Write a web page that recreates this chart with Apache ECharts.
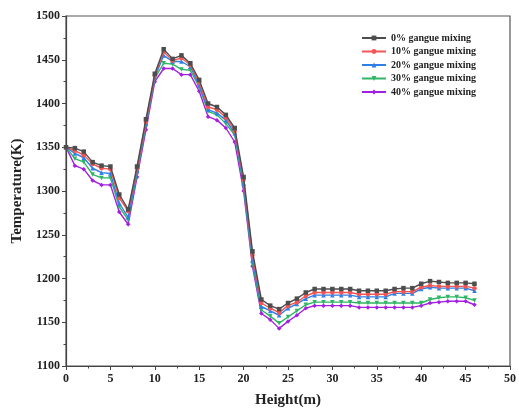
<!DOCTYPE html>
<html><head><meta charset="utf-8">
<script src="https://cdn.jsdelivr.net/npm/echarts@6/dist/echarts.min.js"></script>
<style>html,body{margin:0;padding:0;background:#fff}#c{width:519px;height:415px}</style>
</head><body><div id="c"></div>
<script>
const heights = [];
for (let h = 0; h <= 46; h++) heights.push(h);
const seriesNames = ['0% gangue mixing','10% gangue mixing','20% gangue mixing','30% gangue mixing','40% gangue mixing'];
const t0 = [1350,1349,1345,1333,1329,1328,1296,1279,1328,1382,1434,1462,1451,1455,1446,1427,1400,1396,1387,1372,1316,1231,1176,1169,1165,1172,1177,1184,1188,1188,1188,1188,1188,1186,1186,1186,1186,1188,1189,1189,1194,1197,1196,1195,1195,1195,1194];
const t10 = [1350,1346,1341,1331,1326,1325,1292,1277,1326,1379,1432,1459,1449,1452,1444,1424,1396,1393,1384,1369,1313,1227,1172,1166,1161,1169,1173,1180,1184,1184,1184,1184,1184,1182,1182,1182,1182,1185,1185,1185,1190,1192,1191,1191,1191,1191,1189];
const t20 = [1350,1343,1338,1326,1321,1320,1286,1270,1323,1377,1430,1455,1448,1448,1442,1421,1393,1389,1381,1366,1308,1221,1168,1163,1158,1166,1171,1177,1181,1181,1181,1181,1181,1179,1179,1179,1179,1183,1183,1183,1188,1190,1189,1189,1189,1189,1186];
const t30 = [1350,1337,1333,1319,1315,1315,1282,1267,1320,1375,1429,1446,1445,1439,1438,1419,1391,1387,1377,1364,1305,1217,1164,1157,1149,1156,1163,1170,1173,1173,1173,1173,1173,1172,1172,1172,1172,1172,1172,1172,1172,1176,1178,1179,1179,1178,1175];
const t40 = [1350,1329,1325,1312,1307,1307,1276,1262,1316,1370,1425,1440,1440,1433,1433,1414,1385,1381,1372,1356,1300,1214,1160,1153,1143,1151,1158,1166,1169,1169,1169,1169,1169,1167,1167,1167,1167,1167,1167,1167,1169,1172,1173,1174,1174,1174,1170];
const seriesValues = [t0, t10, t20, t30, t40];
const xTicks = [0,5,10,15,20,25,30,35,40,45,50];
const yTicks = [1100,1150,1200,1250,1300,1350,1400,1450,1500];

const colors = ['#4d4d4d','#f25555','#2f7fe8','#2fb565','#a41fe0'];
const symbols = ['rect','circle','triangle','triangle','diamond'];
const rotates = [0,0,0,180,0];
const font = '"Liberation Serif","Times New Roman",serif';

const chart = echarts.init(document.getElementById('c'), null, {renderer:'canvas'});
chart.setOption({
  animation:false,
  backgroundColor:'#fff',
  grid:{left:66,right:3,top:16,bottom:49,show:true,borderColor:'#555',borderWidth:1.2,backgroundColor:'transparent'},
  legend:{
    orient:'vertical', left:356, top:28, itemWidth:24, itemHeight:6, itemGap:3.5,
    textStyle:{fontFamily:font,fontWeight:'bold',fontSize:10,color:'#222'},
    data:seriesNames.map(n=>({name:n}))
  },
  xAxis:{
    type:'value', min:xTicks[0], max:xTicks[xTicks.length-1], interval:5,
    name:'Height(m)', nameLocation:'middle', nameGap:27,
    nameTextStyle:{fontFamily:font,fontWeight:'bold',fontSize:15,color:'#222'},
    axisLine:{show:true,onZero:false,lineStyle:{color:'#444',width:1.2}},
    axisTick:{show:true,inside:false,length:4,lineStyle:{color:'#444'}},
    minorTick:{show:true,splitNumber:2,length:2.5,lineStyle:{color:'#444'}},
    axisLabel:{fontFamily:font,fontWeight:'bold',fontSize:12,color:'#222',margin:7,formatter:v=>String(v)},
    splitLine:{show:false}
  },
  yAxis:{
    type:'value', min:yTicks[0], max:yTicks[yTicks.length-1], interval:50,
    name:'Temperature(K)', nameLocation:'middle', nameGap:33,
    nameTextStyle:{fontFamily:font,fontWeight:'bold',fontSize:15,color:'#222'},
    axisLine:{show:true,onZero:false,lineStyle:{color:'#444',width:1.2}},
    axisTick:{show:true,inside:false,length:4,lineStyle:{color:'#444'}},
    minorTick:{show:true,splitNumber:2,length:2.5,lineStyle:{color:'#444'}},
    axisLabel:{fontFamily:font,fontWeight:'bold',fontSize:12,color:'#222',margin:6,formatter:v=>String(v)},
    splitLine:{show:false}
  },
  series:seriesNames.map((n,i)=>({
    name:n, type:'line',
    data:heights.map((h,j)=>[h, seriesValues[i][j]]),
    symbol:symbols[i], symbolRotate:rotates[i], symbolSize:4.5, showSymbol:true,
    itemStyle:{color:colors[i]},
    lineStyle:{color:colors[i],width:1.4},
    z:10-i
  }))
});
</script></body></html>
